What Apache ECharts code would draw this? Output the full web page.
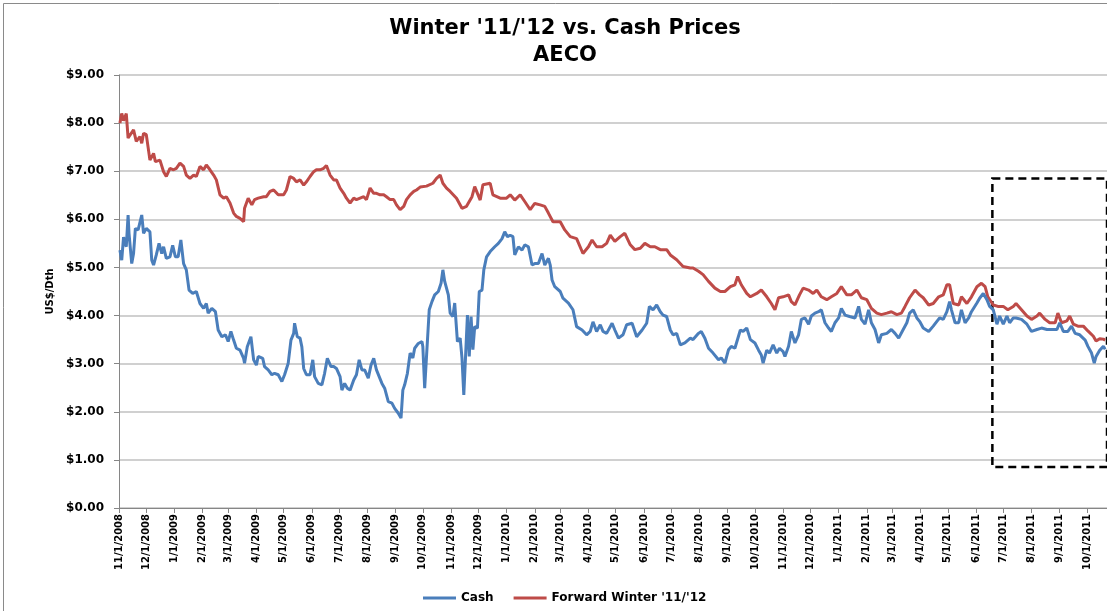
<!DOCTYPE html>
<html>
<head>
<meta charset="utf-8">
<script src="https://cdn.jsdelivr.net/npm/echarts@6/dist/echarts.min.js"></script>
<style>
html,body{margin:0;padding:0;background:#fff;}
#chart{width:1107px;height:611px;}
</style>
</head>
<body>
<div id="chart"></div>
<script>
// ---------- data ----------
const titleText = "Winter '11/'12 vs. Cash Prices";
const subTitleText = "AECO";
const yAxisName = "US$/Dth";
const seriesNames = ["Cash", "Forward Winter '11/'12"];
const startDate = '2008-11-01';      // first day of the x axis
const axisEndDay = 1086;             // last day shown (days after startDate)

// days after startDate and the prices on those days
const fwdDays = [1,3,5,8,10,16,19,23,25,27,30,34,38,40,45,49,52,56,60,63,67,71,74,78,82,85,89,93,96,100,104,107,111,115,118,122,126,129,133,137,138,142,146,149,153,159,162,166,170,175,181,184,188,192,195,199,203,206,210,214,217,221,225,228,232,236,239,243,247,250,254,258,261,265,269,272,276,280,283,287,291,294,298,302,305,309,313,316,320,324,327,331,338,345,349,353,356,360,364,371,377,382,388,391,397,400,408,411,419,426,430,435,441,446,452,457,463,468,472,477,485,490,496,503,510,516,520,525,531,536,540,545,551,556,562,567,573,578,584,589,595,602,606,613,620,628,631,637,642,648,655,661,666,672,677,680,684,690,694,701,706,712,717,721,725,730,736,739,743,748,752,758,763,767,772,778,783,789,794,800,805,811,816,822,827,833,838,844,849,855,860,864,869,875,880,884,890,895,901,906,910,913,917,923,926,932,937,943,948,952,955,961,966,972,977,983,986,992,998,1003,1009,1012,1018,1023,1029,1032,1036,1042,1045,1049,1054,1060,1065,1071,1074,1078,1082,1084];
const fwdValues = [8.0,8.2,8.05,8.2,7.69,7.86,7.62,7.72,7.58,7.79,7.76,7.23,7.37,7.2,7.23,6.99,6.89,7.06,7.03,7.06,7.17,7.1,6.92,6.85,6.92,6.89,7.1,7.03,7.13,7.03,6.92,6.82,6.51,6.44,6.47,6.34,6.13,6.06,6.02,5.95,6.23,6.44,6.3,6.41,6.44,6.47,6.47,6.58,6.61,6.51,6.51,6.61,6.89,6.85,6.78,6.82,6.71,6.78,6.89,6.99,7.03,7.03,7.06,7.12,6.92,6.82,6.82,6.65,6.54,6.44,6.34,6.44,6.41,6.44,6.47,6.41,6.65,6.54,6.54,6.51,6.51,6.47,6.41,6.41,6.3,6.2,6.27,6.41,6.51,6.58,6.61,6.67,6.69,6.75,6.85,6.92,6.75,6.65,6.58,6.44,6.23,6.27,6.47,6.68,6.4,6.72,6.75,6.51,6.44,6.44,6.51,6.4,6.51,6.37,6.2,6.33,6.3,6.27,6.13,5.95,5.95,5.78,5.64,5.6,5.29,5.43,5.57,5.43,5.43,5.5,5.67,5.54,5.64,5.71,5.47,5.37,5.4,5.5,5.43,5.43,5.37,5.37,5.26,5.16,5.02,4.99,4.99,4.92,4.85,4.71,4.57,4.5,4.5,4.6,4.64,4.81,4.64,4.46,4.39,4.46,4.53,4.39,4.25,4.12,4.37,4.39,4.43,4.29,4.22,4.43,4.57,4.53,4.46,4.53,4.39,4.33,4.39,4.46,4.6,4.43,4.43,4.53,4.37,4.33,4.15,4.05,4.02,4.05,4.08,4.02,4.05,4.19,4.37,4.53,4.43,4.37,4.22,4.25,4.39,4.43,4.64,4.64,4.25,4.22,4.39,4.25,4.39,4.6,4.67,4.6,4.39,4.22,4.19,4.19,4.12,4.19,4.25,4.12,3.99,3.92,3.99,4.05,3.92,3.85,3.85,4.05,3.85,3.89,3.99,3.82,3.78,3.78,3.68,3.57,3.47,3.52,3.51,3.49];

const cashDays = [1,3,5,8,10,11,14,16,18,21,23,25,27,30,34,36,38,41,44,47,49,52,56,59,62,65,68,71,74,77,81,85,89,93,96,98,102,106,109,113,117,120,123,126,129,133,137,138,141,145,148,151,153,158,160,164,168,171,175,179,182,186,189,192,193,196,199,201,203,206,210,213,215,219,223,226,229,233,236,239,243,245,248,251,254,258,261,264,267,270,274,277,280,283,289,292,296,300,303,307,310,312,314,317,320,323,325,329,333,334,336,338,341,344,347,351,354,356,358,362,364,367,369,372,375,377,379,381,383,385,387,389,391,394,396,399,401,404,408,413,417,421,424,427,430,433,435,439,443,446,450,454,457,461,465,468,472,474,476,479,485,488,494,499,503,509,514,518,521,525,529,532,536,542,545,549,554,558,564,569,575,580,583,587,591,595,598,602,606,609,613,617,622,628,631,637,640,644,648,653,659,662,666,670,673,677,683,686,690,694,699,703,706,708,712,715,719,723,726,730,732,736,739,743,747,750,754,758,761,765,769,772,776,780,783,787,791,794,798,803,809,813,816,820,824,827,831,835,838,844,849,853,857,862,866,869,873,877,880,884,890,895,899,902,906,910,913,915,919,923,926,930,934,937,943,946,950,954,957,961,965,968,972,976,979,983,986,992,998,1003,1009,1014,1020,1025,1031,1034,1038,1043,1047,1051,1056,1062,1065,1069,1072,1074,1078,1082,1084];
const cashValues = [5.36,5.15,5.63,5.43,6.09,5.71,5.08,5.29,5.81,5.78,5.74,6.09,5.71,5.81,5.74,5.15,5.05,5.26,5.5,5.29,5.43,5.19,5.22,5.46,5.22,5.22,5.57,5.08,4.95,4.53,4.46,4.5,4.25,4.15,4.25,4.05,4.15,4.08,3.7,3.56,3.6,3.46,3.67,3.49,3.32,3.28,3.11,3.01,3.35,3.56,3.08,2.97,3.15,3.11,2.94,2.87,2.77,2.8,2.77,2.63,2.77,3.01,3.49,3.63,3.84,3.56,3.53,3.35,2.9,2.77,2.77,3.08,2.73,2.59,2.56,2.8,3.11,2.94,2.94,2.9,2.73,2.45,2.59,2.49,2.45,2.66,2.77,3.08,2.87,2.87,2.7,2.97,3.11,2.87,2.59,2.49,2.21,2.18,2.07,1.97,1.87,2.45,2.56,2.8,3.22,3.12,3.32,3.42,3.46,3.35,2.49,2.45,4.12,4.29,4.43,4.5,4.67,4.95,4.71,4.43,4.05,3.98,4.26,3.46,3.53,3.12,2.35,2.39,4.01,3.15,3.98,3.29,3.77,3.74,4.5,4.53,4.95,5.22,5.33,5.43,5.5,5.6,5.74,5.64,5.67,5.64,5.26,5.43,5.36,5.47,5.43,5.05,5.08,5.08,5.29,5.05,5.19,5.05,4.74,4.6,4.5,4.36,4.26,4.12,3.77,3.7,3.6,3.67,3.87,3.67,3.81,3.67,3.63,3.84,3.7,3.53,3.6,3.81,3.84,3.56,3.7,3.84,4.19,4.12,4.22,4.08,4.01,3.98,3.7,3.6,3.63,3.39,3.43,3.53,3.5,3.63,3.67,3.53,3.32,3.22,3.08,3.12,3.01,3.29,3.36,3.32,3.7,3.67,3.74,3.5,3.43,3.28,3.18,3.01,3.28,3.22,3.39,3.22,3.32,3.25,3.15,3.36,3.67,3.43,3.6,3.92,3.95,3.82,3.99,4.05,4.08,4.12,3.85,3.74,3.67,3.85,3.95,4.15,4.01,3.98,3.95,4.19,3.92,3.82,4.12,3.85,3.71,3.43,3.6,3.63,3.71,3.63,3.53,3.71,3.85,4.05,4.12,3.95,3.88,3.74,3.67,3.78,3.88,3.95,3.92,4.08,4.29,4.12,3.85,3.85,4.12,3.85,3.95,4.08,4.26,4.36,4.46,4.33,4.19,4.12,3.82,3.99,3.82,3.99,3.85,3.95,3.95,3.92,3.82,3.67,3.71,3.74,3.71,3.71,3.71,3.85,3.67,3.67,3.78,3.63,3.6,3.49,3.36,3.22,3.01,3.15,3.28,3.36,3.3];

// dashed highlight box (data coordinates)
const boxStartDay = 960, boxEndDay = 1110, boxTop = 6.85, boxBottom = 0.85;

// ---------- helpers ----------
const [sy, sm, sd] = startDate.split('-').map(Number);
const dayToTime = d => new Date(sy, sm - 1, sd + d).getTime();
const pairs = (days, vals) => days.map((d, i) => [dayToTime(d), vals[i]]);

const FONT = 'DejaVu Sans';
const DAY = 86400000;

const chart = echarts.init(document.getElementById('chart'), null, {renderer: 'canvas'});
chart.setOption({
  backgroundColor: '#fff',
  animation: false,
  graphic: [{
    type: 'rect', silent: true,
    shape: {x: 3.5, y: 3.5, width: 1200, height: 700},
    style: {fill: 'none', stroke: '#8a8a8a', lineWidth: 1}
  }],
  title: {
    text: titleText + '\n' + subTitleText,
    left: 560, top: 10, textAlign: 'center',
    textStyle: {fontFamily: FONT, fontWeight: 'bold', fontSize: 21, lineHeight: 27, color: '#000'}
  },
  legend: {
    data: seriesNames,
    left: 418, top: 587,
    itemWidth: 33, itemHeight: 3, itemGap: 20,
    icon: 'rect',
    textStyle: {fontFamily: FONT, fontWeight: 'bold', fontSize: 12, color: '#000'}
  },
  grid: {left: 119, right: 0, top: 75, bottom: 103, containLabel: false},
  xAxis: {
    type: 'time',
    min: dayToTime(0), max: dayToTime(axisEndDay),
    minInterval: 30 * DAY, maxInterval: 30 * DAY,
    axisLine: {lineStyle: {color: '#868686', width: 1}},
    axisTick: {show: true, length: 5, lineStyle: {color: '#868686'}},
    splitLine: {show: false},
    axisLabel: {
      rotate: 90, margin: 6, color: '#000',
      fontFamily: FONT, fontWeight: 'bold', fontSize: 10,
      hideOverlap: false,
      formatter: v => { const d = new Date(v); return (d.getMonth() + 1) + '/' + d.getDate() + '/' + d.getFullYear(); }
    }
  },
  yAxis: {
    type: 'value', min: 0, max: 9, interval: 1,
    name: yAxisName, nameLocation: 'middle', nameGap: 62,
    nameTextStyle: {fontFamily: FONT, fontWeight: 'bold', fontSize: 10, color: '#000', padding: [0, 0, 0, 0]},
    axisLine: {show: true, lineStyle: {color: '#868686', width: 1}},
    axisTick: {show: true, length: 5, lineStyle: {color: '#868686'}},
    splitLine: {show: true, lineStyle: {color: '#c0c0c0', width: 1.5}},
    axisLabel: {
      margin: 15, color: '#000', fontFamily: FONT, fontWeight: 'bold', fontSize: 12,
      formatter: v => '$' + v.toFixed(2)
    }
  },
  series: [
    {
      name: seriesNames[0], type: 'line', data: pairs(cashDays, cashValues),
      showSymbol: false, symbol: 'none', color: '#4a7ebb',
      lineStyle: {width: 3, color: '#4a7ebb'}, z: 3,
      markArea: {
        silent: true,
        label: {show: false},
        itemStyle: {color: 'rgba(0,0,0,0)', borderColor: '#000', borderWidth: 2.5, borderType: [8, 5]},
        data: [[{coord: [dayToTime(boxStartDay), boxTop]}, {coord: [dayToTime(boxEndDay), boxBottom]}]]
      }
    },
    {
      name: seriesNames[1], type: 'line', data: pairs(fwdDays, fwdValues),
      showSymbol: false, symbol: 'none', color: '#be4b48',
      lineStyle: {width: 3, color: '#be4b48'}, z: 2
    }
  ]
});
</script>
</body>
</html>
